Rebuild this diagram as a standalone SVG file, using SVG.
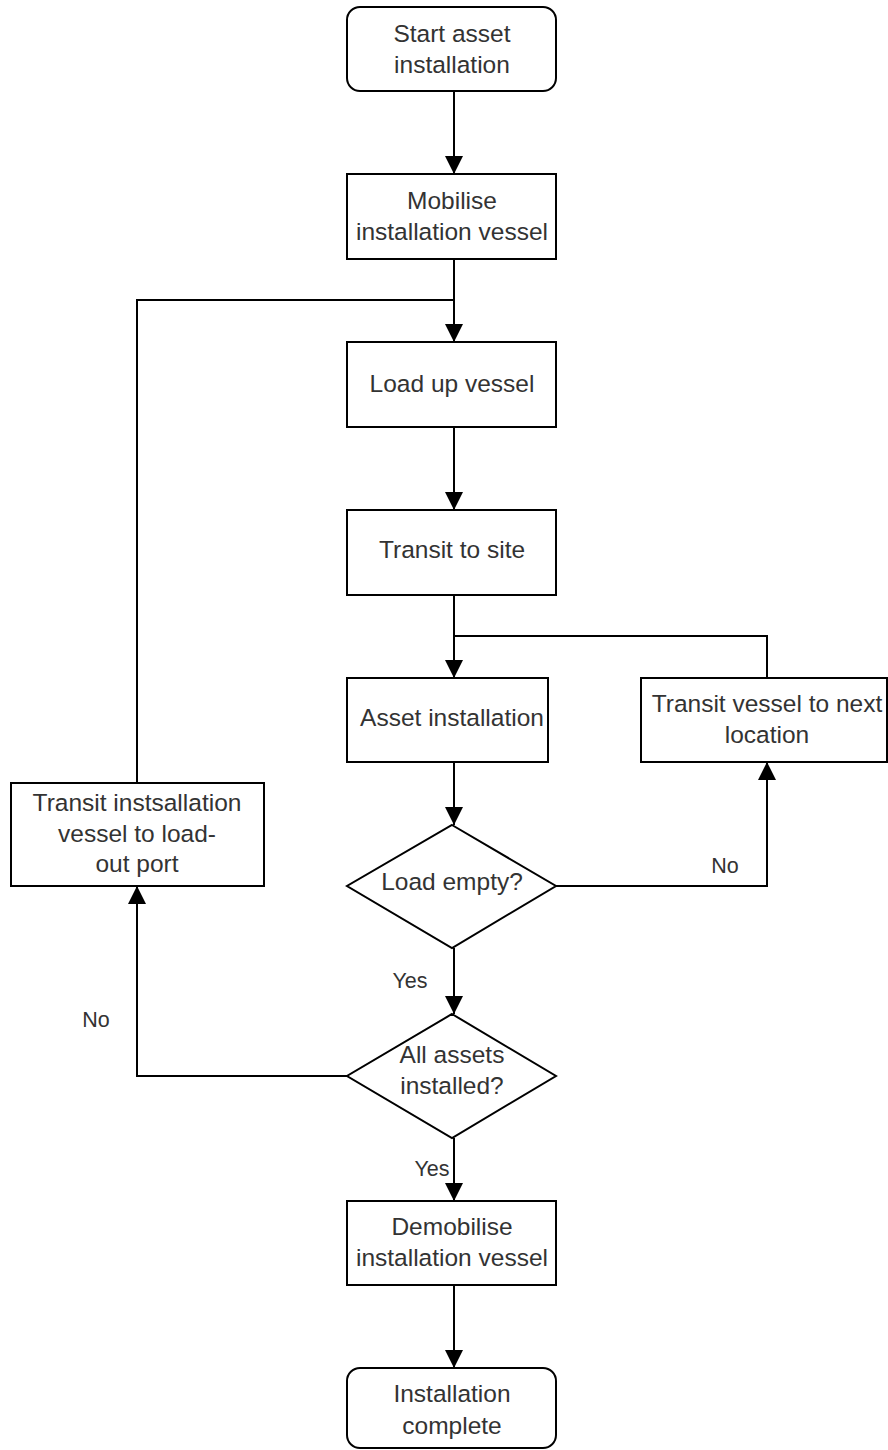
<svg xmlns="http://www.w3.org/2000/svg" width="888" height="1450" viewBox="0 0 888 1450">
  <style>
    .box { fill: #ffffff; stroke: #000000; stroke-width: 2; }
    .lbl { font-family: "Liberation Sans", Arial, sans-serif; font-size: 24.5px; fill: #333333; text-anchor: middle; }
    .edge { fill: none; stroke: #000000; stroke-width: 2; }
    .tag { font-family: "Liberation Sans", Arial, sans-serif; font-size: 21.5px; fill: #333333; text-anchor: middle; }
  </style>
  <defs>
    <marker id="arrow" viewBox="0 0 18 18" refX="18" refY="9" markerWidth="18" markerHeight="18" markerUnits="userSpaceOnUse" orient="auto">
      <path d="M0,0 L18,9 L0,18 Z" fill="#000000"/>
    </marker>
  </defs>
  <rect width="888" height="1450" fill="#ffffff"/>

  <g id="connectors">
    <path class="edge" d="M454,91 V174" marker-end="url(#arrow)"/>
    <path class="edge" d="M454,259 V342" marker-end="url(#arrow)"/>
    <path class="edge" d="M137,783 V300 H454"/>
    <path class="edge" d="M454,427 V510" marker-end="url(#arrow)"/>
    <path class="edge" d="M454,595 V678" marker-end="url(#arrow)"/>
    <path class="edge" d="M767,678 V636 H454"/>
    <path class="edge" d="M454,762 V825" marker-end="url(#arrow)"/>
    <path class="edge" d="M556,886 H767 V762" marker-end="url(#arrow)"/>
    <path class="edge" d="M454,948 V1014" marker-end="url(#arrow)"/>
    <path class="edge" d="M347,1076 H137 V886" marker-end="url(#arrow)"/>
    <path class="edge" d="M454,1138 V1201" marker-end="url(#arrow)"/>
    <path class="edge" d="M454,1285 V1368" marker-end="url(#arrow)"/>
    <text class="tag" x="725" y="873">No</text>
    <text class="tag" x="410" y="988">Yes</text>
    <text class="tag" x="96" y="1027">No</text>
    <text class="tag" x="432" y="1176">Yes</text>
  </g>

  <g id="start">
    <rect class="box" x="347" y="7" width="209" height="84" rx="13"/>
    <text class="lbl" x="452" y="42">Start asset</text>
    <text class="lbl" x="452" y="73">installation</text>
  </g>

  <g id="mobilise">
    <rect class="box" x="347" y="174" width="209" height="85"/>
    <text class="lbl" x="452" y="209">Mobilise</text>
    <text class="lbl" x="452" y="240">installation vessel</text>
  </g>

  <g id="load-up">
    <rect class="box" x="347" y="342" width="209" height="85"/>
    <text class="lbl" x="452" y="392">Load up vessel</text>
  </g>

  <g id="transit-site">
    <rect class="box" x="347" y="510" width="209" height="85"/>
    <text class="lbl" x="452" y="558">Transit to site</text>
  </g>

  <g id="asset-installation">
    <rect class="box" x="347" y="678" width="201" height="84"/>
    <text class="lbl" x="452" y="726">Asset installation</text>
  </g>

  <g id="transit-next">
    <rect class="box" x="641" y="678" width="246" height="84"/>
    <text class="lbl" x="767" y="712">Transit vessel to next</text>
    <text class="lbl" x="767" y="743">location</text>
  </g>

  <g id="load-empty">
    <polygon class="box" points="452,825 556,886 452,948 347,886"/>
    <text class="lbl" x="452" y="890">Load empty?</text>
  </g>

  <g id="transit-port">
    <rect class="box" x="11" y="783" width="253" height="103"/>
    <text class="lbl" x="137" y="811">Transit instsallation</text>
    <text class="lbl" x="137" y="842">vessel to load-</text>
    <text class="lbl" x="137" y="872">out port</text>
  </g>

  <g id="all-installed">
    <polygon class="box" points="452,1014 556,1076 452,1138 347,1076"/>
    <text class="lbl" x="452" y="1063">All assets</text>
    <text class="lbl" x="452" y="1094">installed?</text>
  </g>

  <g id="demobilise">
    <rect class="box" x="347" y="1201" width="209" height="84"/>
    <text class="lbl" x="452" y="1235">Demobilise</text>
    <text class="lbl" x="452" y="1266">installation vessel</text>
  </g>

  <g id="complete">
    <rect class="box" x="347" y="1368" width="209" height="80" rx="13"/>
    <text class="lbl" x="452" y="1402">Installation</text>
    <text class="lbl" x="452" y="1434">complete</text>
  </g>
</svg>
